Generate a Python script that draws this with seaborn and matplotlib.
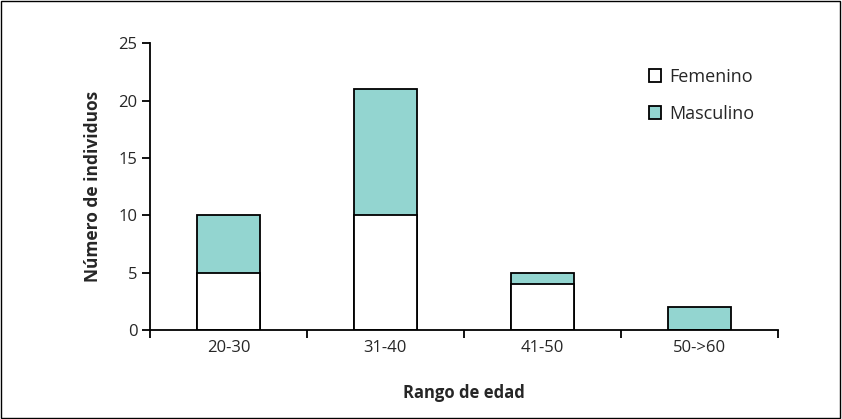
import numpy as np
import pandas as pd
import seaborn as sns
from matplotlib import pyplot as plt
from matplotlib.patches import Patch, Rectangle

rangos = ["20-30", "31-40", "41-50", "50->60"]
femenino = [5, 10, 4, 0]
masculino = [5, 11, 1, 2]

teal = "#93d5d0"

df = pd.DataFrame({"Rango": rangos, "Femenino": femenino, "Masculino": masculino})
df["Total"] = df["Femenino"] + df["Masculino"]

sns.set_style("white")
plt.rcParams['font.family'] = ['Open Sans', 'DejaVu Sans']

fig = plt.figure(figsize=(8.42, 4.19), dpi=100)
ax = fig.add_axes([0.178, 0.212, 0.746, 0.685])

sns.barplot(data=df, x="Rango", y="Total", color=teal, edgecolor="black",
            linewidth=1.3, width=0.4, saturation=1, ax=ax)
sns.barplot(data=df[df["Femenino"] > 0], x="Rango", y="Femenino", color="white",
            edgecolor="black", linewidth=1.3, width=0.4, saturation=1, ax=ax,
            order=rangos)

ax.set_xlim(-0.5, len(rangos) - 0.5)
ax.set_ylim(0, 25)
ax.set_yticks(range(0, 26, 5))
ax.set_xticks(np.arange(-0.5, len(rangos), 1))
ax.set_xticklabels([])
ax.set_xticks(range(len(rangos)), minor=True)
ax.set_xticklabels(rangos, minor=True)
ax.tick_params(axis="x", which="major", direction="out", length=6, width=1.3, color="black", bottom=True)
ax.tick_params(axis="x", which="minor", length=0, labelsize=12, pad=7)
ax.tick_params(axis="y", direction="out", length=6, width=1.3, color="black", left=True, labelsize=12, pad=3)

for s in ["top", "right"]:
    ax.spines[s].set_visible(False)
for s in ["left", "bottom"]:
    ax.spines[s].set_color("black")
    ax.spines[s].set_linewidth(1.3)

ax.set_xlabel("Rango de edad", fontweight="bold", fontsize=12, labelpad=20)
ax.set_ylabel("Número de individuos", fontweight="bold", fontsize=12.5, labelpad=12)

handles = [Patch(facecolor="white", edgecolor="black", linewidth=1.3, label="Femenino"),
           Patch(facecolor=teal, edgecolor="black", linewidth=1.3, label="Masculino")]
ax.legend(handles=handles, loc="upper left", bbox_to_anchor=(0.768, 0.97), frameon=False,
          fontsize=13, handlelength=0.7, handleheight=0.7, handletextpad=0.45, labelspacing=1.05)

fig.patches.append(Rectangle((0.001, 0.002), 0.997, 0.995, transform=fig.transFigure,
                             fill=False, edgecolor="black", linewidth=1))

fig.savefig("out.png", dpi=100)
